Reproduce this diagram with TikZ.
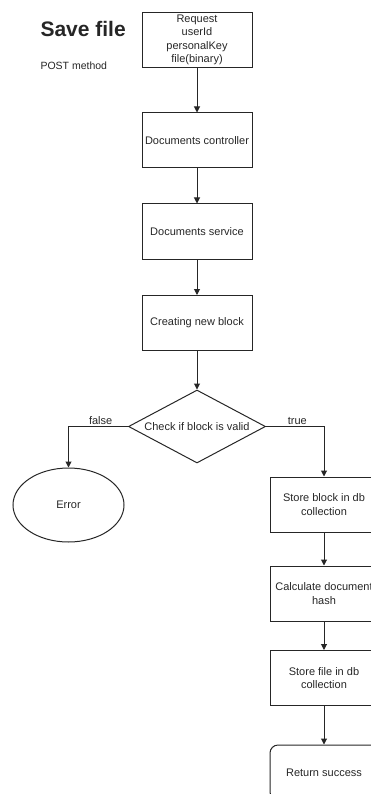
\documentclass[tikz,border=0pt]{standalone}
\usepackage{fontspec}
\setmainfont{Liberation Sans}
\usetikzlibrary{shapes.geometric,arrows.meta}

\begin{document}
\begin{tikzpicture}[x=1pt, y=-1pt,
    every node/.style={font=\fontsize{11}{13.5}\selectfont, text=black!85},
    box/.style={draw=black!85, line width=1pt, minimum width=110pt,
      minimum height=55pt, align=center, inner sep=1pt},
    decision/.style={diamond, draw=black!85, line width=1pt, aspect=1.9,
      inner sep=0pt, minimum width=137pt, minimum height=73pt},
    flow/.style={draw=black!85, line width=1pt,
      -{Triangle[length=6pt, width=6pt]}},
    lbl/.style={above, inner sep=1pt}]

  \useasboundingbox (0,0) rectangle (371,794);
  \clip (0,0) rectangle (371,794);

  % heading
  \node[anchor=base west, font=\fontsize{21}{25}\selectfont\bfseries] (title)
    at (37,37) {Save file};
  \node[anchor=base west, font=\fontsize{10.5}{13}\selectfont] (method)
    at (37,70) {POST method};

  % main column
  \node[box] (request) at (197,40) {Request\\userId\\personalKey\\file(binary)};
  \node[box] (controller) at (197,140.5) {Documents controller};
  \node[box] (service) at (197,231.5) {Documents service};
  \node[box] (newblock) at (197,323) {Creating new block};
  \node[decision] (valid) at (197,426.5) {Check if block is valid};

  % false branch
  \node[ellipse, draw=black!85, line width=1pt, inner sep=0pt,
    minimum width=111pt, minimum height=74pt] (error) at (68.5,505) {Error};

  % true branch
  \node[box, minimum width=108pt] (storeblock) at (324,504.5)
    {Store block in db\\collection};
  \node[box, minimum width=108pt] (hash) at (324,593.5)
    {Calculate document\\hash};
  \node[box, minimum width=108pt] (storefile) at (324,678)
    {Store file in db\\collection};
  \node[box, minimum width=108pt, rounded corners=8pt] (success) at (324,772.5)
    {Return success};

  \foreach \from/\to in {request/controller, controller/service,
      service/newblock, newblock/valid, storeblock/hash, hash/storefile,
      storefile/success}
    \draw[flow] (\from) -- (\to);

  \draw[flow] (valid.west) -| node[lbl, pos=0.23] {false} (error);
  \draw[flow] (valid.east) -| node[lbl, pos=0.27] {true} (storeblock);

\end{tikzpicture}
\end{document}
